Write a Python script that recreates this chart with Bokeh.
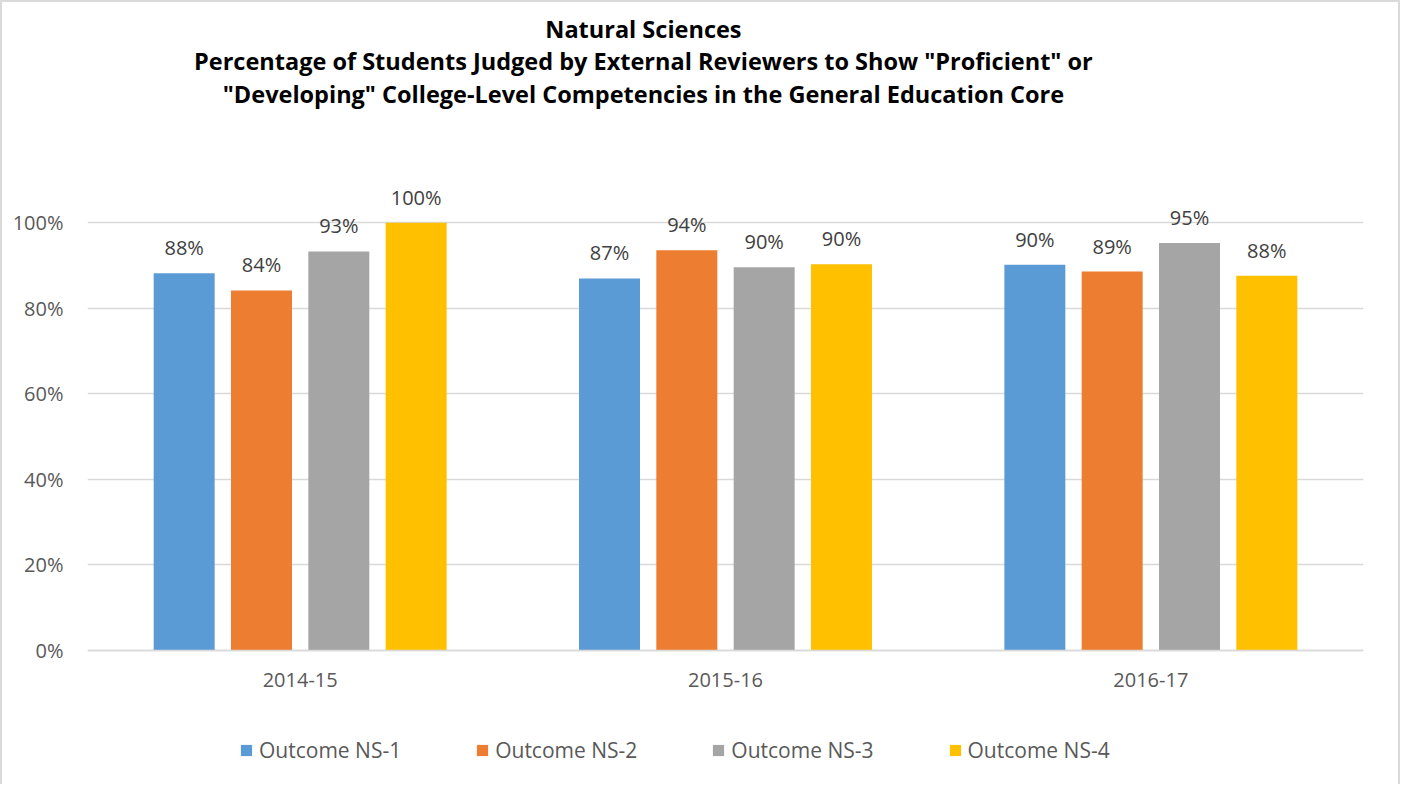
from bokeh.plotting import figure
from bokeh.models import (FactorRange, Range1d, FixedTicker, PrintfTickFormatter, Legend,
                          LegendItem, Label, ColumnDataSource)
from bokeh.transform import dodge
from bokeh.core.properties import value
from bokeh.embed import file_html
from bokeh.resources import INLINE

# ---- data ----
years = ["2014-15", "2015-16", "2016-17"]
series_names = ["Outcome NS-1", "Outcome NS-2", "Outcome NS-3", "Outcome NS-4"]
ns1 = [88.2, 87.0, 90.2]
ns2 = [84.2, 93.6, 88.6]
ns3 = [93.3, 89.6, 95.3]
ns4 = [100.0, 90.3, 87.6]
y_ticks = [0, 20, 40, 60, 80, 100]
title_lines = [
    "Natural Sciences",
    'Percentage of Students Judged by External Reviewers to Show "Proficient" or',
    '"Developing" College-Level Competencies in the General Education Core',
]

# ---- style / layout ----
colors = ["#5B9BD5", "#ED7D31", "#A5A5A5", "#FFC000"]
offsets = [-0.2727, -0.0909, 0.0909, 0.2727]
FONT = "Open Sans"
Y_MIN, Y_MAX = -31.80, 151.51          # frame extends over title and legend area
TITLE_X = 1.307                        # horizontal centre of the title block
TITLE_BASELINES = [145.3, 137.9, 130.2]

series = [ns1, ns2, ns3, ns4]
data = {"year": years}
for i, s in enumerate(series):
    data[f"v{i}"] = s
    data[f"l{i}"] = [f"{round(v)}%" for v in s]
src = ColumnDataSource(data)

p = figure(x_range=FactorRange(factors=years, range_padding=0), y_range=Range1d(Y_MIN, Y_MAX),
           width=1400, height=784, output_backend="svg", toolbar_location=None,
           min_border_left=85, min_border_right=39, min_border_top=0, min_border_bottom=0)
p.styles = {"border-left": "2px solid #D9D9D9", "border-top": "2px solid #D9D9D9",
            "border-right": "2px solid #D9D9D9"}
p.outline_line_color = None
p.background_fill_color = "white"
p.border_fill_color = "white"

renderers = []
for i in range(4):
    r = p.vbar(x=dodge("year", offsets[i], range=p.x_range), top=f"v{i}", width=0.1434,
               source=src, fill_color=colors[i], line_color=None)
    renderers.append(r)
    p.text(x=dodge("year", offsets[i], range=p.x_range), y=f"v{i}", text=f"l{i}", source=src,
           text_align="center", text_baseline="alphabetic", y_offset=-25.5,
           text_font=value(FONT), text_font_size="20px", text_color="#404040")

# axes
p.yaxis.ticker = FixedTicker(ticks=y_ticks)
p.yaxis.formatter = PrintfTickFormatter(format="%d%%")
p.yaxis.axis_line_color = None
p.yaxis.major_tick_line_color = None
p.yaxis.major_tick_out = 0
p.yaxis.minor_tick_line_color = None
p.yaxis.major_label_standoff = 24
p.yaxis.major_label_text_font = FONT
p.yaxis.major_label_text_font_size = "20px"
p.yaxis.major_label_text_color = "#595959"

p.xaxis.fixed_location = 0
p.xaxis.axis_line_color = "#D9D9D9"
p.xaxis.axis_line_width = 1.5
p.xaxis.major_tick_line_color = None
p.xaxis.major_tick_out = 0
p.xaxis.minor_tick_line_color = None
p.xaxis.major_label_standoff = 23
p.xaxis.major_label_text_font = FONT
p.xaxis.major_label_text_font_size = "20px"
p.xaxis.major_label_text_color = "#595959"

p.xgrid.grid_line_color = None
p.ygrid.grid_line_color = "#D9D9D9"
p.ygrid.grid_line_width = 1.5

# title block (three bold centred lines)
for line, yb in zip(title_lines, TITLE_BASELINES):
    p.add_layout(Label(x=TITLE_X, y=yb, text=line, text_align="center", text_baseline="alphabetic",
                       text_font=FONT, text_font_size="23.5px", text_font_style="bold",
                       text_color="#000000"))

# legend at the bottom
legend = Legend(items=[LegendItem(label=series_names[i], renderers=[renderers[i]]) for i in range(4)],
                orientation="horizontal", location=(152, 22),
                glyph_width=14, glyph_height=14, label_standoff=6, spacing=74,
                label_text_font=FONT, label_text_font_size="21px", label_text_color="#595959",
                border_line_color=None, background_fill_alpha=0, margin=0, padding=10)
p.add_layout(legend, "center")

open("out.html", "w").write(file_html(p, INLINE))
